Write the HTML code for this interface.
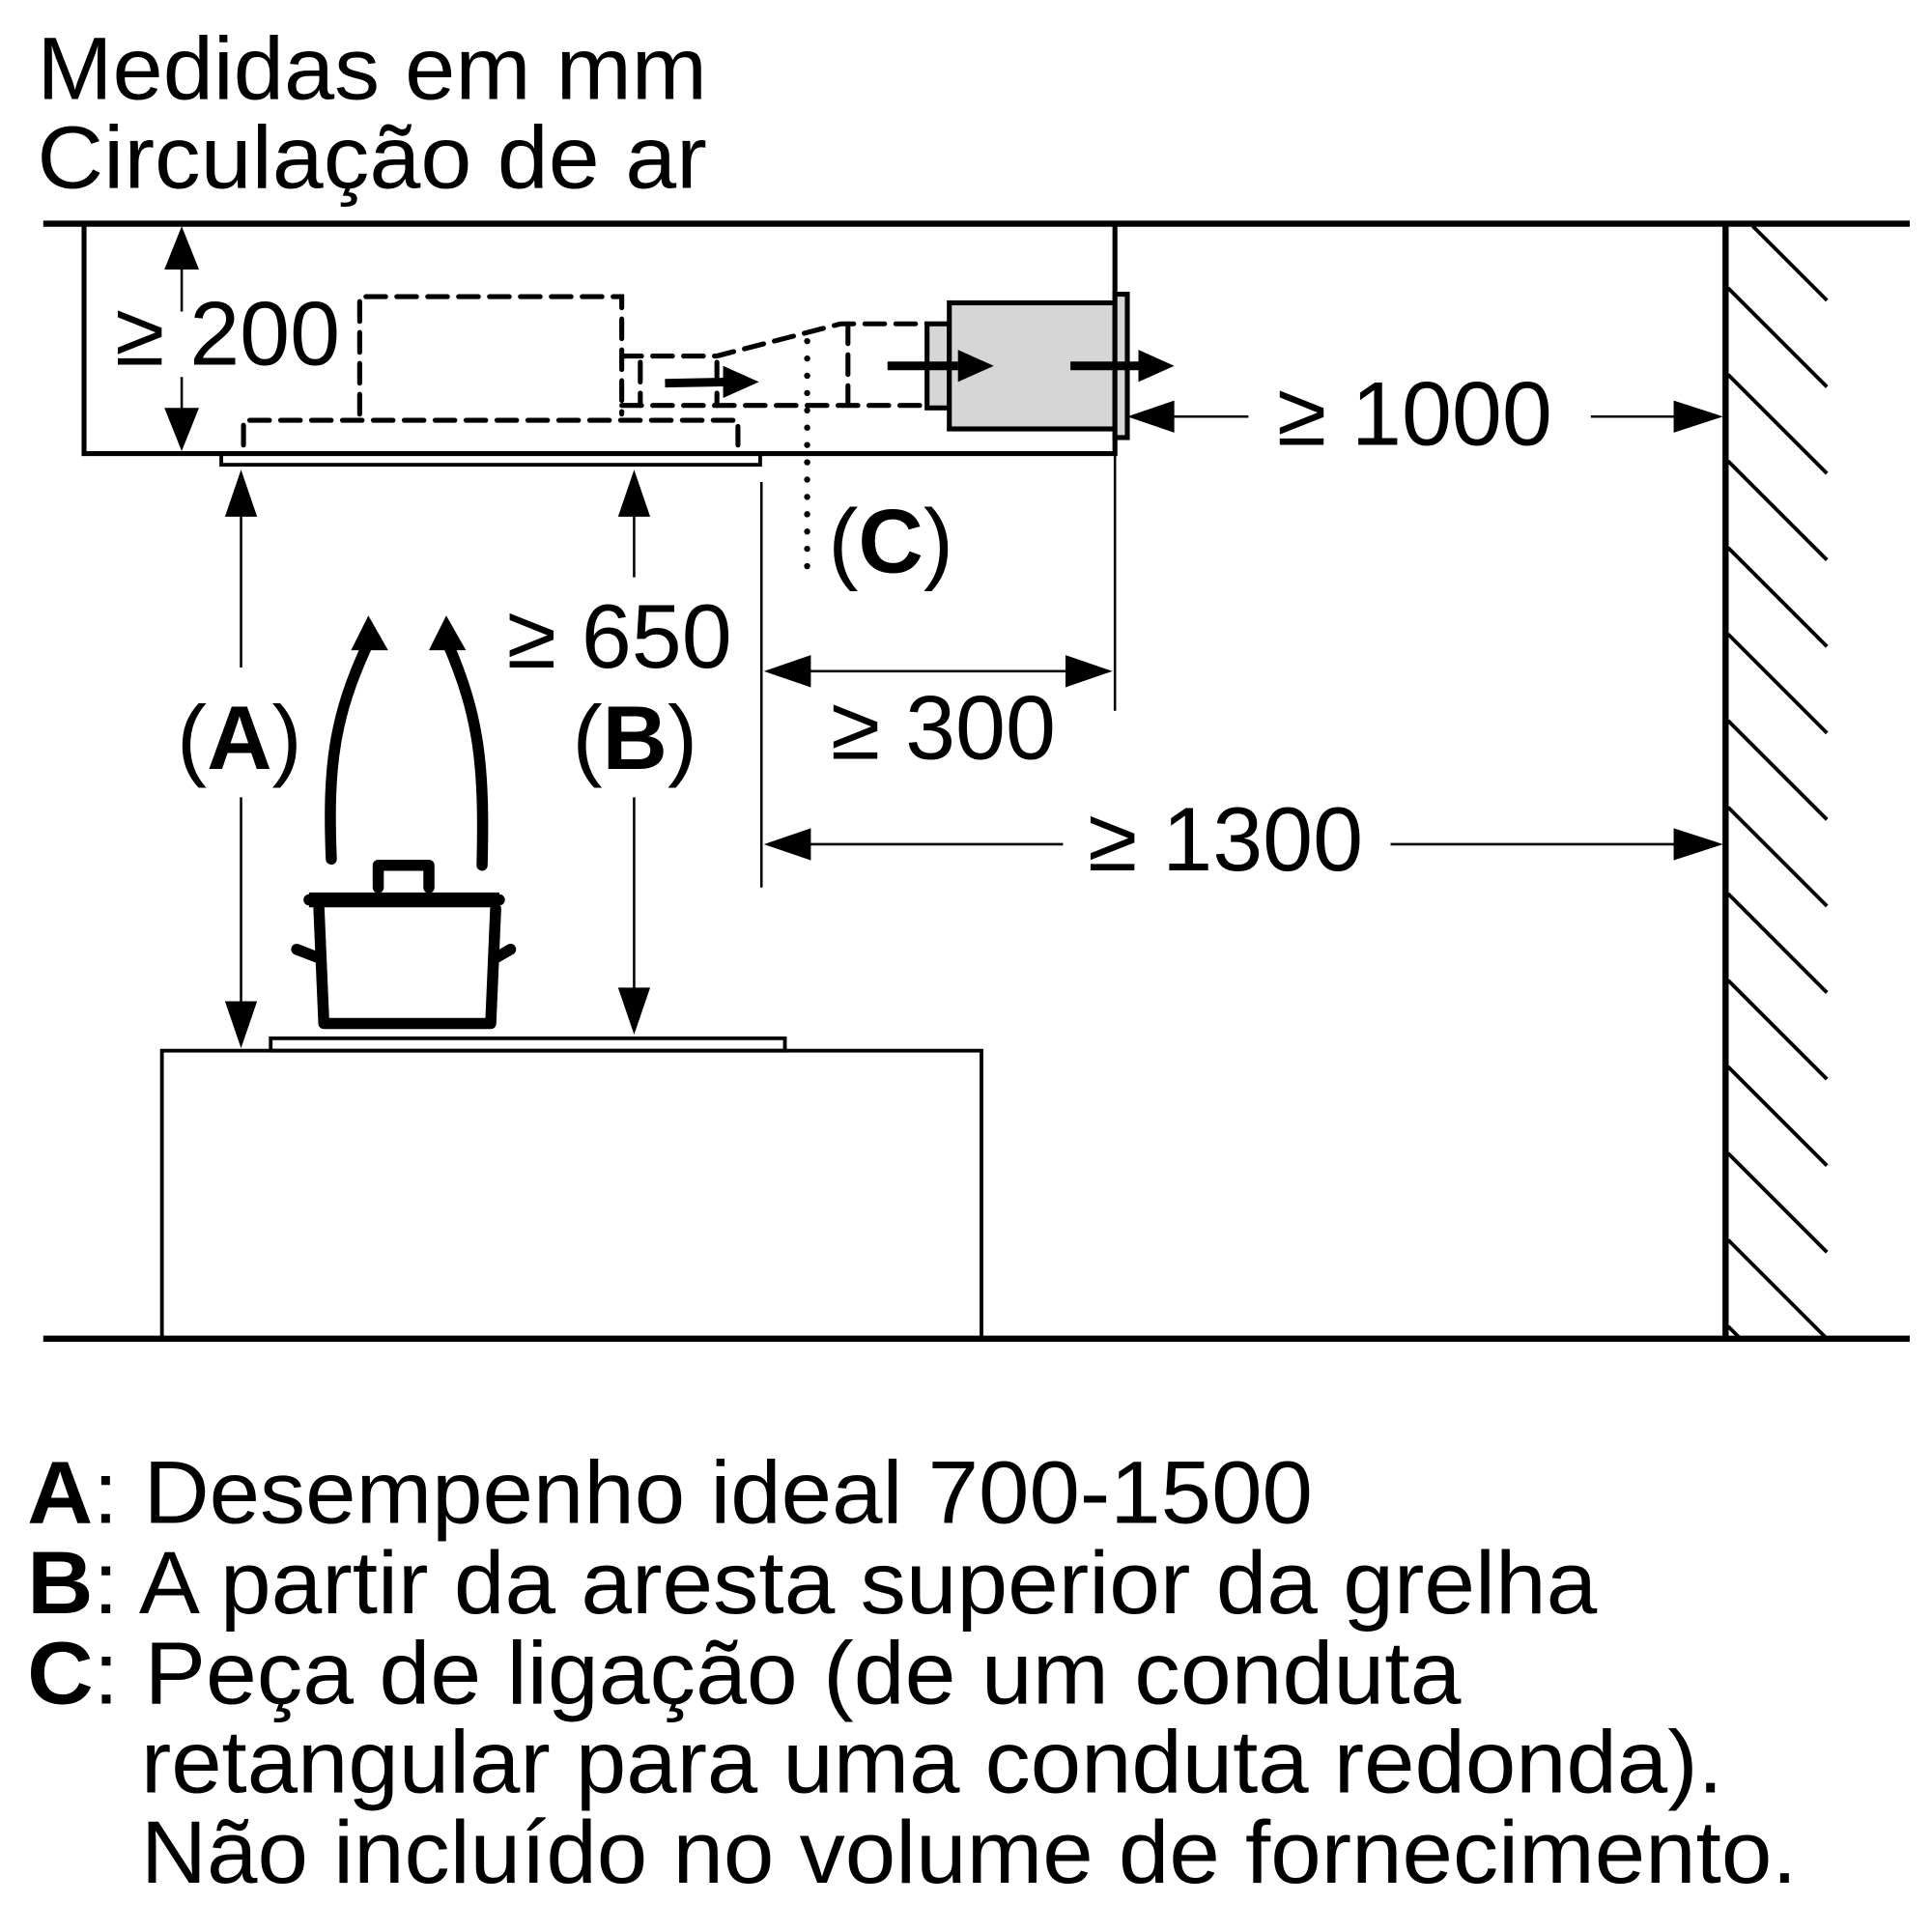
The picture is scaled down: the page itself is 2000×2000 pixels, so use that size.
<!DOCTYPE html>
<html><head><meta charset="utf-8"><style>
html,body{margin:0;padding:0;background:#fff;}
svg{display:block;}
text{font-family:"Liberation Sans","DejaVu Sans",sans-serif;fill:#000;}
</style></head><body>
<svg width="2000" height="2000" viewBox="0 0 1563 1563" xmlns="http://www.w3.org/2000/svg">
<text x="30" y="80" font-size="72" textLength="542" lengthAdjust="spacingAndGlyphs">Medidas em mm</text>
<text x="30" y="152" font-size="72" textLength="542" lengthAdjust="spacingAndGlyphs">Circulação de ar</text>
<g stroke="#000" fill="none">
<line x1="35" y1="181" x2="1545" y2="181" stroke-width="5"/>
<line x1="35" y1="1083" x2="1545" y2="1083" stroke-width="5"/>
<line x1="1396" y1="181" x2="1396" y2="1083" stroke-width="5"/>
<g stroke-width="3">
<line x1="1418" y1="183" x2="1478" y2="243"/>
<line x1="1398" y1="233" x2="1478" y2="313"/>
<line x1="1398" y1="303" x2="1478" y2="383"/>
<line x1="1398" y1="373" x2="1478" y2="453"/>
<line x1="1398" y1="443" x2="1478" y2="523"/>
<line x1="1398" y1="513" x2="1478" y2="593"/>
<line x1="1398" y1="583" x2="1478" y2="663"/>
<line x1="1398" y1="653" x2="1478" y2="733"/>
<line x1="1398" y1="723" x2="1478" y2="803"/>
<line x1="1398" y1="793" x2="1478" y2="873"/>
<line x1="1398" y1="863" x2="1478" y2="943"/>
<line x1="1398" y1="933" x2="1478" y2="1013"/>
<line x1="1398" y1="1003" x2="1478" y2="1083"/>
<line x1="1398" y1="1073" x2="1408" y2="1083"/>
</g>
<path d="M68,181 V367 H902 V181" stroke-width="4"/>
<rect x="179" y="367" width="436" height="9" stroke-width="3"/>
<g stroke-width="4" stroke-dasharray="16,9" stroke-linecap="round">
<path d="M291,335 V240 H503 V335"/>
<path d="M197,360 V340 H597 V360"/>
<path d="M503,288 H580 L680,262 H750"/>
<path d="M503,328 H750"/>
<path d="M518,293 V328"/>
<path d="M580,293 V328"/>
<path d="M686,262 V328"/>
</g>
<line x1="653" y1="276" x2="653" y2="470" stroke-width="5" stroke-dasharray="0,14" stroke-linecap="round"/>
<rect x="750" y="262" width="18" height="68" fill="#d6d6d6" stroke-width="4"/>
<rect x="768" y="245" width="134" height="102" fill="#d6d6d6" stroke-width="4"/>
<rect x="902" y="238" width="10" height="116" fill="#d6d6d6" stroke-width="4"/>
<g stroke-width="7">
<line x1="538" y1="310" x2="590" y2="309"/>
<line x1="718" y1="296" x2="775" y2="296"/>
<line x1="866" y1="296" x2="925" y2="296"/>
</g>
<g stroke-width="2">
<line x1="147" y1="210" x2="147" y2="252"/>
<line x1="147" y1="305" x2="147" y2="338"/>
<line x1="902" y1="367" x2="902" y2="575"/>
<line x1="616" y1="390" x2="616" y2="718"/>
<line x1="945" y1="337" x2="1010" y2="337"/>
<line x1="1287" y1="337" x2="1360" y2="337"/>
<line x1="650" y1="543" x2="870" y2="543"/>
<line x1="650" y1="683" x2="860" y2="683"/>
<line x1="1125" y1="683" x2="1360" y2="683"/>
<line x1="195" y1="410" x2="195" y2="540"/>
<line x1="195" y1="645" x2="195" y2="815"/>
<line x1="513" y1="410" x2="513" y2="467"/>
<line x1="513" y1="645" x2="513" y2="805"/>
</g>
</g>
<g>
<path d="M614,309 L585,296 L585,322 z"/>
<path d="M804,296 L775,283 L775,309 z"/>
<path d="M950,296 L921,283 L921,309 z"/>
<path d="M147,183 L133,218 L161,218 z"/>
<path d="M147,365 L133,330 L161,330 z"/>
<path d="M912,337 L950,324 L950,350 z"/>
<path d="M1394,337 L1354,324 L1354,350 z"/>
<path d="M618,543 L656,530 L656,556 z"/>
<path d="M900,543 L862,530 L862,556 z"/>
<path d="M618,683 L656,670 L656,696 z"/>
<path d="M1394,683 L1354,670 L1354,696 z"/>
<path d="M195,380 L182,418 L208,418 z"/>
<path d="M195,848 L182,810 L208,810 z"/>
<path d="M513,380 L500,418 L526,418 z"/>
<path d="M513,837 L500,799 L526,799 z"/>
</g>
<g font-size="73">
<text x="93" y="295">≥ 200</text>
<text x="1033" y="360">≥ 1000</text>
<text x="670" y="463"><tspan>(</tspan><tspan font-weight="bold">C</tspan><tspan>)</tspan></text>
<text x="410" y="540">≥ 650</text>
<text x="463" y="622"><tspan>(</tspan><tspan font-weight="bold">B</tspan><tspan>)</tspan></text>
<text x="143" y="622"><tspan>(</tspan><tspan font-weight="bold">A</tspan><tspan>)</tspan></text>
<text x="672" y="614">≥ 300</text>
<text x="880" y="704">≥ 1300</text>
</g>
<g stroke="#000" fill="none" stroke-width="9" stroke-linecap="round" stroke-linejoin="round">
<path d="M258,735 L262,828 L397,828 L401,735"/>
<path d="M250,728 L404,728"/>
<path d="M306,718 V700 H347 V718"/>
<path d="M240,768 L258,775"/>
<path d="M413,768 L401,775"/>
<path d="M268,695 C265,620 270,580 298,520"/>
<path d="M390,700 C392,620 388,580 362,520"/>
</g>
<path d="M250,722 L404,722 L404,734 L250,734 z"/>
<path d="M298,498 L284,526 L314,526 z"/>
<path d="M361,498 L347,526 L377,526 z"/>
<g stroke="#000" fill="none" stroke-width="3">
<rect x="131" y="850" width="663" height="233"/>
<rect x="219" y="840" width="416" height="10"/>
</g>
<g font-size="72">
<text x="22" y="1232" textLength="1040" lengthAdjust="spacingAndGlyphs"><tspan font-weight="bold">A</tspan>: Desempenho ideal 700-1500</text>
<text x="22" y="1305" textLength="1270" lengthAdjust="spacingAndGlyphs"><tspan font-weight="bold">B</tspan>: A partir da aresta superior da grelha</text>
<text x="22" y="1378" textLength="1160" lengthAdjust="spacingAndGlyphs"><tspan font-weight="bold">C</tspan>: Peça de ligação (de um conduta</text>
<text x="114" y="1450" textLength="1280" lengthAdjust="spacingAndGlyphs">retangular para uma conduta redonda).</text>
<text x="114" y="1523" textLength="1340" lengthAdjust="spacingAndGlyphs">Não incluído no volume de fornecimento.</text>
</g>
</svg>
</body></html>
